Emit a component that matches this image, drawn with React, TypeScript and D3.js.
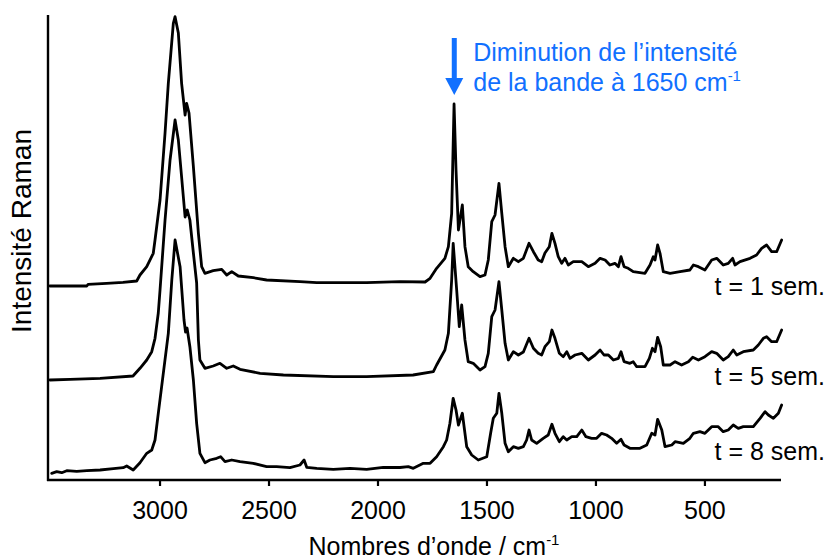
import React from "react";
import * as d3 from "d3";

// Raman spectra: [wavenumber (cm-1), intensity (a.u.)]
const week1: [number, number][] = [
  [3505, 4], [3336, 4], [3330, 5.7], [3245, 6.7], [3170, 7.7], [3107, 9], [3092, 15], [3061, 23.3],
  [3031, 36.7], [3023, 50], [3000, 90], [2977, 157], [2962, 206.7], [2939, 266.7], [2931, 273.3],
  [2916, 257], [2901, 206.7], [2885, 175], [2878, 186.7], [2867, 177], [2847, 123.3], [2824, 56.7],
  [2809, 23.3], [2794, 16.7], [2756, 19.3], [2717, 20.7], [2694, 15], [2671, 18.3], [2641, 14],
  [2572, 12.3], [2511, 10], [2358, 8.3], [2281, 7.3], [2052, 7.3], [1899, 8.3], [1784, 8], [1761, 11.7],
  [1731, 21.7], [1693, 31.7], [1677, 43.3], [1662, 76.7], [1651, 186], [1642, 120], [1631, 60],
  [1613, 85], [1601, 43.3], [1586, 23.3], [1563, 18.3], [1532, 13.3], [1509, 15], [1494, 30],
  [1478, 68.3], [1463, 75], [1445, 106.7], [1432, 76.7], [1417, 43.3], [1402, 23.3], [1379, 31.7],
  [1356, 28.3], [1333, 31.7], [1307, 46.7], [1287, 38.3], [1265, 30], [1249, 28.3], [1234, 37],
  [1214, 43.3], [1202, 56.7], [1188, 46.7], [1173, 33.3], [1157, 26.7], [1142, 31.7], [1127, 25],
  [1104, 28.3], [1065, 28.3], [1035, 23.3], [1004, 26.7], [981, 31.7], [958, 30], [936, 25],
  [913, 26.7], [897, 23.3], [885, 33.3], [871, 23.3], [852, 21.7], [829, 18.3], [775, 16.7],
  [752, 25], [737, 33.3], [729, 30], [717, 45], [706, 36.7], [691, 18.3], [660, 16.7], [614, 18.3],
  [569, 20], [553, 25], [530, 23.3], [500, 20], [469, 30], [446, 31.7], [416, 25], [393, 26.7],
  [373, 31.7], [362, 25], [339, 28.3], [293, 31.7], [263, 35], [240, 41.7], [217, 45], [194, 38.3],
  [171, 38.3], [148, 50],
];

const week5: [number, number][] = [
  [3505, 5], [3413, 5.7], [3275, 6.7], [3124, 9], [3092, 16.7], [3061, 25], [3038, 33.3], [3023, 46.7],
  [3008, 72], [3000, 95], [2977, 165], [2954, 225], [2931, 265], [2916, 245], [2901, 208], [2885, 168],
  [2875, 175], [2863, 165], [2847, 132], [2832, 102], [2824, 45], [2817, 25], [2794, 16.7], [2756, 19],
  [2725, 21.7], [2694, 16.7], [2664, 19], [2633, 15.7], [2541, 11.7], [2434, 10], [2205, 8.3],
  [2052, 8.3], [1839, 10], [1746, 13.3], [1731, 20], [1693, 35], [1677, 51.7], [1662, 105],
  [1655, 141.7], [1639, 95], [1627, 58.3], [1616, 80], [1601, 45], [1586, 23.3], [1563, 21.7],
  [1532, 15], [1509, 18.3], [1494, 31.7], [1478, 68.3], [1463, 75], [1445, 103.3], [1432, 75],
  [1417, 41.7], [1402, 25], [1379, 33.3], [1356, 30], [1333, 33], [1307, 46.7], [1287, 36.7],
  [1265, 31.7], [1249, 30], [1234, 38.3], [1214, 43.3], [1202, 55], [1188, 46.7], [1168, 31.7],
  [1150, 28.3], [1134, 33.3], [1119, 26.7], [1096, 30], [1065, 31.7], [1035, 25], [1004, 30],
  [981, 35], [963, 30], [943, 30], [920, 25], [897, 26.7], [885, 33.3], [871, 23.3], [844, 21.7],
  [829, 23.3], [813, 18.3], [775, 18.3], [755, 26.7], [741, 36.7], [729, 33.3], [717, 47.7],
  [703, 38.3], [691, 20], [660, 20], [637, 23.3], [607, 20], [576, 23.3], [556, 27.7], [530, 25],
  [500, 28.3], [469, 33.3], [446, 31.7], [416, 25], [393, 28.3], [370, 35], [354, 30], [324, 33.3],
  [278, 35], [255, 40], [232, 46.7], [217, 48.3], [194, 43.3], [171, 43.3], [148, 55],
];

const week8: [number, number][] = [
  [3497, 6.7], [3474, 8.3], [3451, 7.3], [3428, 9.3], [3382, 8.7], [3336, 9.3], [3275, 10],
  [3214, 11.3], [3169, 12.3], [3153, 14], [3123, 10], [3092, 17.3], [3061, 26.7], [3038, 30],
  [3023, 40], [3008, 66.7], [2985, 106.7], [2962, 146.7], [2946, 200], [2931, 240], [2908, 213.3],
  [2890, 160], [2883, 148], [2876, 152], [2863, 133.3], [2847, 100], [2832, 56.7], [2817, 26.7],
  [2794, 17.3], [2771, 20], [2740, 21.7], [2722, 23.3], [2702, 18.3], [2671, 20], [2633, 18.3],
  [2572, 16.7], [2511, 13.3], [2465, 13.3], [2404, 12.3], [2358, 15], [2339, 20], [2327, 12.7],
  [2281, 11.7], [2205, 10.7], [2128, 11.7], [2052, 10.7], [1976, 12.7], [1899, 12.5], [1861, 13.3],
  [1838, 11.7], [1792, 16.7], [1761, 16.7], [1731, 23.3], [1700, 33.3], [1685, 40], [1670, 56.7],
  [1655, 81.7], [1642, 70], [1631, 55], [1613, 66.7], [1593, 33.3], [1570, 25], [1540, 20],
  [1501, 23.3], [1483, 47], [1471, 61.7], [1455, 66.7], [1445, 86.7], [1432, 66.7], [1417, 36.7],
  [1402, 28.3], [1379, 33.3], [1356, 31.7], [1333, 33.3], [1318, 40], [1307, 50], [1295, 40],
  [1272, 36.7], [1242, 41.7], [1219, 45], [1202, 55.7], [1188, 46.7], [1168, 38.3], [1150, 43.3],
  [1134, 40], [1111, 43.3], [1088, 43.3], [1065, 50], [1046, 43.3], [1020, 41.7], [997, 41.7],
  [974, 46.7], [951, 45], [928, 41.7], [905, 36.7], [885, 40.7], [871, 35], [844, 31.7], [798, 31.7],
  [767, 35], [744, 46.7], [729, 45], [717, 60.7], [698, 50], [683, 33.3], [652, 35], [637, 38.3],
  [599, 36.7], [569, 41.7], [553, 46.7], [523, 48.3], [500, 46.7], [469, 53.3], [439, 53.3],
  [416, 48.3], [393, 50], [370, 55], [347, 51.7], [324, 53.3], [278, 53.3], [247, 61.7], [224, 68.3],
  [209, 65], [186, 61.7], [163, 66.7], [148, 75],
];

const spectra = [week1, week5, week8];
const offsets = [190, 95, 0];
const seriesLabels = ["t = 1 sem.", "t = 5 sem.", "t = 8 sem."];
const xTicks = [3000, 2500, 2000, 1500, 1000, 500];
const xDomain: [number, number] = [3514, 151];
const yDomain: [number, number] = [0, 465];
const bandPosition = 1650;

const FONT = "'Liberation Sans', Arial, Helvetica, sans-serif";
const BLUE = "#1170ff";

export default function App() {
  const W = 828;
  const H = 559;
  const left = 48;
  const right = 781;
  const top = 15;
  const bottom = 480;

  const x = d3.scaleLinear().domain(xDomain).range([left, right]);
  const y = d3.scaleLinear().domain(yDomain).range([bottom, top]);

  const labelY = [295, 385, 460];
  const arrowX = x(bandPosition);

  return (
    <svg
      width={W}
      height={H}
      style={{ position: "absolute", left: 0, top: 0, background: "#fff" }}
      fontFamily={FONT}
    >
      <rect width={W} height={H} fill="#fff" />
      {spectra.map((s, i) => {
        const line = d3
          .line<[number, number]>()
          .x((d) => x(d[0]))
          .y((d) => y(d[1] + offsets[i]));
        return (
          <path
            key={i}
            d={line(s) || ""}
            fill="none"
            stroke="#000"
            strokeWidth={2.8}
            strokeLinejoin="round"
            strokeLinecap="round"
          />
        );
      })}
      {/* axes */}
      <line x1={left} x2={left} y1={top} y2={bottom + 1} stroke="#000" strokeWidth={2.4} />
      <line x1={left - 1} x2={right} y1={bottom} y2={bottom} stroke="#000" strokeWidth={2.4} />
      {xTicks.map((t) => (
        <g key={t}>
          <line x1={x(t)} x2={x(t)} y1={bottom} y2={bottom + 6} stroke="#000" strokeWidth={2.2} />
          <text x={x(t)} y={519} textAnchor="middle" fontSize={25} fill="#000">
            {t}
          </text>
        </g>
      ))}
      <text x={434} y={555} textAnchor="middle" fontSize={25} fill="#000">
        Nombres d’onde / cm
        <tspan fontSize={15} dy={-10}>-1</tspan>
      </text>
      <text
        transform={`translate(31, 231) rotate(-90)`}
        textAnchor="middle"
        fontSize={28}
        fill="#000"
      >
        Intensité Raman
      </text>
      {seriesLabels.map((l, i) => (
        <text key={l} x={825} y={labelY[i]} textAnchor="end" fontSize={25} fill="#000">
          {l}
        </text>
      ))}
      {/* annotation */}
      <rect x={arrowX - 2.5} y={38} width={5} height={42} fill={BLUE} />
      <path d={`M${arrowX - 9},78 L${arrowX + 9},78 L${arrowX},95 Z`} fill={BLUE} />
      <text x={arrowX + 19} y={61} fontSize={25} fill={BLUE}>
        Diminution de l’intensité
      </text>
      <text x={arrowX + 19} y={91} fontSize={25} fill={BLUE}>
        de la bande à 1650 cm
        <tspan fontSize={15} dy={-10}>-1</tspan>
      </text>
    </svg>
  );
}
